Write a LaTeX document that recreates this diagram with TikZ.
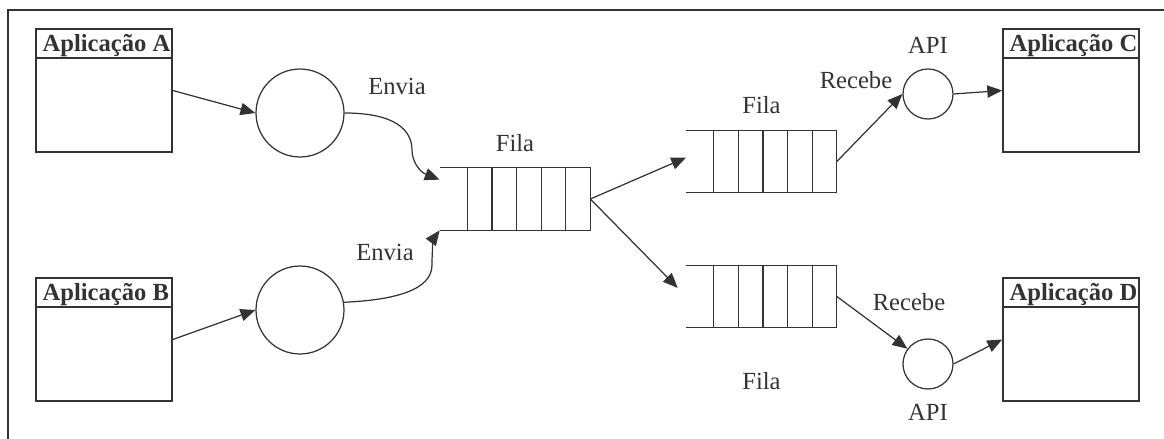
\documentclass[tikz,border=0pt]{standalone}
\usepackage{fontspec}
\setmainfont{Liberation Serif}
\usepackage{tikz}
\usetikzlibrary{positioning}
\usetikzlibrary{arrows.meta}
\definecolor{linha}{HTML}{333333}
\tikzstyle{arrow} = [draw=linha,line width=0.7pt,-{Triangle[length=8.5pt,width=7pt]}]
\tikzstyle{appbox} = [draw=linha,line width=0.9pt,minimum width=2.72cm,minimum height=2.46cm,inner sep=0]
\tikzstyle{apptitle} = [inner sep=0,text=linha,font=\fontsize{14}{16}\selectfont\bfseries]
\tikzstyle{circulo} = [draw=linha,line width=0.7pt,circle,inner sep=0]
\tikzstyle{fila} = [minimum width=3cm,minimum height=1.24cm,inner sep=0]
\tikzstyle{rotulo} = [inner sep=0,text=linha,font=\fontsize{14}{16}\selectfont]

\begin{document}
\begin{tikzpicture}[x=0.02cm,y=-0.02cm]
	\useasboundingbox (0,0) rectangle (1164,439);
	
	%Frame
	\draw[linha,line width=0.8pt] (1164,10) -- (8,10) -- (8,439);
	
	%Applications
	\foreach \app/\x/\y in {A/104/90.5, B/104/339.5, C/1071/90.5, D/1071/339.5} {
		\node [appbox] (app\app) at (\x,\y) {};
		\draw [linha,line width=0.9pt] ([yshift=-0.6cm]app\app.north west) -- ([yshift=-0.6cm]app\app.north east);
		\node [apptitle,anchor=base west] at ([xshift=0.14cm,yshift=-0.46cm]app\app.north west) {Aplicação \app};
	}
	
	%Circles
	\node [circulo,minimum size=1.76cm] (circA) at (300,113) {};
	\node [circulo,minimum size=1.76cm] (circB) at (300,310) {};
	\node [circulo,minimum size=1cm] (apiC) at (928,94) {};
	\node [circulo,minimum size=1cm] (apiD) at (928,364) {};
	
	%Queues
	\node [fila] (fila1) at (515,199) {};
	\node [fila] (fila2) at (761.5,161.5) {};
	\node [fila] (fila3) at (761.5,296.5) {};
	\foreach \q in {fila1,fila2,fila3} {
		\draw [linha,line width=0.7pt] (\q.north west) -- (\q.north east) -- (\q.south east) -- (\q.south west);
		\foreach \i in {1,...,5}
			\draw [linha,line width=0.7pt] ([xshift=-\i*0.492cm]\q.north east) -- ([xshift=-\i*0.492cm]\q.south east);
	}
	
	%Labels
	\node [rotulo,anchor=base] at (397,95) {Envia};
	\node [rotulo,anchor=base] at (385,260) {Envia};
	\node [rotulo,above=0.32cm of fila1] {Fila};
	\node [rotulo,above=0.32cm of fila2] {Fila};
	\node [rotulo,below=0.88cm of fila3] {Fila};
	\node [rotulo,anchor=base] at (856,89) {Recebe};
	\node [rotulo,anchor=base] at (909,310) {Recebe};
	\node [rotulo,above=0.3cm of apiC] {API};
	\node [rotulo,below=0.29cm of apiD] {API};
	
	%Lines
	\draw [arrow] (appA.east) -- (circA.west);
	\draw [arrow] (appB.east) -- (circB.west);
	\draw [arrow] (circA.east) .. controls (395,113) and (412,130) .. (412,150) .. controls (412,162) and (420,172) .. ([yshift=-0.24cm]fila1.north west);
	\draw [arrow] (circB.10) .. controls (395,300) and (432,290) .. (432,265) .. controls (432,248) and (434,238) .. (fila1.south west);
	\draw [arrow] (fila1.east) -- ([yshift=0.08cm]fila2.west);
	\draw [arrow,shorten >=0.24cm] (fila1.east) -- (fila3.west);
	\draw [arrow] (fila2.east) -- (apiC.west);
	\draw [arrow] (fila3.east) -- (apiD);
	\draw [arrow] (apiC.east) -- (appC.west);
	\draw [arrow] (apiD.east) -- (appD.west);
\end{tikzpicture}
\end{document}
